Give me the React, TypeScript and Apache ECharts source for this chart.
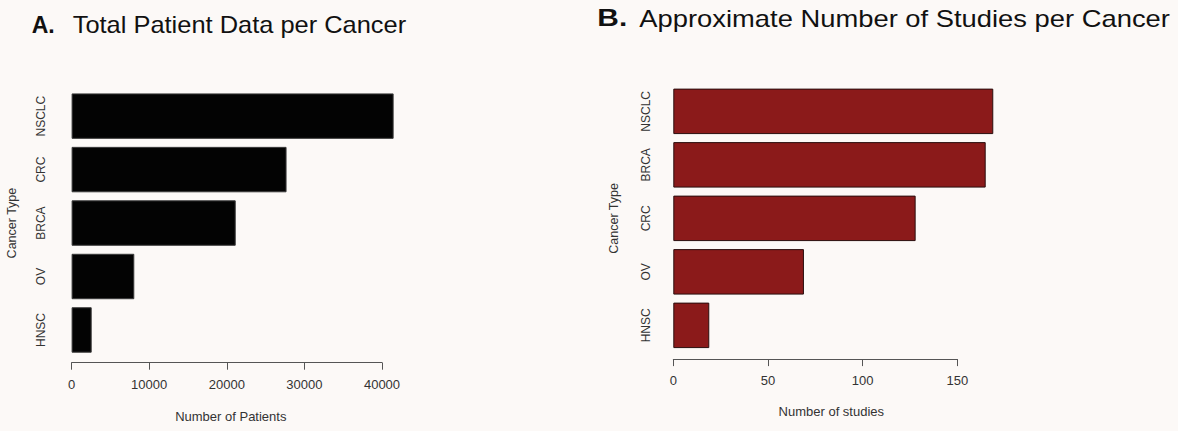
import React, { useEffect, useRef } from "react";
import * as echarts from "echarts";

const categoriesA = ["NSCLC", "CRC", "BRCA", "OV", "HNSC"];
const patientsA = [41500, 27700, 21150, 8080, 2590];

const categoriesB = ["NSCLC", "BRCA", "CRC", "OV", "HNSC"];
const studiesB = [169, 165, 128, 69, 19];

const ticksA = { min: 0, max: 40000, interval: 10000 };
const ticksB = { min: 0, max: 150, interval: 50 };

const FONT = "'Liberation Sans', Arial, Helvetica, sans-serif";
const TEXT = "#333333";
const AXIS = "#555555";
const BG = "#fcf9f7";

export default function App() {
  const ref = useRef<HTMLDivElement>(null);

  useEffect(() => {
    if (!ref.current) return;
    const chart = echarts.init(ref.current, null, { renderer: "svg" });

    const xAxisCommon = (gridIndex: number, t: any, name: string, offset: number, margin: number, nameGap: number, pad: number) => ({
      gridIndex,
      type: "value",
      min: t.min,
      max: t.max,
      interval: t.interval,
      offset,
      axisLine: { show: true, lineStyle: { color: AXIS, width: 1 } },
      axisTick: { show: true, length: 7, lineStyle: { color: AXIS, width: 1 } },
      axisLabel: { fontSize: 13, color: TEXT, fontFamily: FONT, margin, formatter: (v: number) => String(v) },
      splitLine: { show: false },
      name,
      nameLocation: "middle",
      nameGap,
      nameTextStyle: { fontSize: 13, color: TEXT, fontFamily: FONT, padding: [0, 0, 0, pad] },
    });

    const yAxisCommon = (gridIndex: number, data: string[], margin: number, nameGap: number) => ({
      gridIndex,
      type: "category",
      data,
      inverse: true,
      axisLine: { show: false },
      axisTick: { show: false },
      axisLabel: { rotate: 90, fontSize: 12, color: TEXT, fontFamily: FONT, margin },
      splitLine: { show: false },
      name: "Cancer Type",
      nameLocation: "middle",
      nameGap,
      nameTextStyle: { fontSize: 12.5, color: TEXT, fontFamily: FONT },
    });

    const option: any = {
      animation: false,
      backgroundColor: BG,
      grid: [
        { left: 71.6, top: 89.4, width: 310.4, height: 267.3 },
        { left: 673.3, top: 84.6, width: 284, height: 267.5 },
      ],
      xAxis: [
        xAxisCommon(0, ticksA, "Number of Patients", 6, 15, 47.5, 8),
        xAxisCommon(1, ticksB, "Number of studies", 7, 15, 46, 32),
      ],
      yAxis: [yAxisCommon(0, categoriesA, 25, 53), yAxisCommon(1, categoriesB, 21, 52.5)],
      series: [
        {
          type: "bar",
          xAxisIndex: 0,
          yAxisIndex: 0,
          data: patientsA,
          clip: false,
          barCategoryGap: "15%",
          itemStyle: { color: "#030303", borderColor: "#3a3a3a", borderWidth: 1 },
        },
        {
          type: "bar",
          xAxisIndex: 1,
          yAxisIndex: 1,
          data: studiesB,
          clip: false,
          barCategoryGap: "15%",
          itemStyle: { color: "#8b1a1a", borderColor: "#2a0e0e", borderWidth: 1 },
        },
      ],
      graphic: [
        {
          type: "text",
          x: 31.7,
          y: 24.6,
          style: { text: "A.", fontSize: 23, fontWeight: "bold", fontFamily: FONT, fill: "#111", align: "left", verticalAlign: "middle" },
        },
        {
          type: "text",
          x: 72.7,
          y: 24.6,
          scaleX: 1.106,
          style: { text: "Total Patient Data per Cancer", fontSize: 23, fontFamily: FONT, fill: "#111", align: "left", verticalAlign: "middle" },
        },
        {
          type: "text",
          x: 597.3,
          y: 18.6,
          scaleX: 1.3,
          style: { text: "B.", fontSize: 23, fontWeight: "bold", fontFamily: FONT, fill: "#111", align: "left", verticalAlign: "middle" },
        },
        {
          type: "text",
          x: 639.3,
          y: 18.6,
          scaleX: 1.19,
          style: { text: "Approximate Number of Studies per Cancer", fontSize: 23, fontFamily: FONT, fill: "#111", align: "left", verticalAlign: "middle" },
        },
      ],
    };

    chart.setOption(option);
    return () => chart.dispose();
  }, []);

  return (
    <div
      ref={ref}
      style={{ position: "absolute", left: 0, top: 0, width: 1178, height: 431, background: BG }}
    />
  );
}
